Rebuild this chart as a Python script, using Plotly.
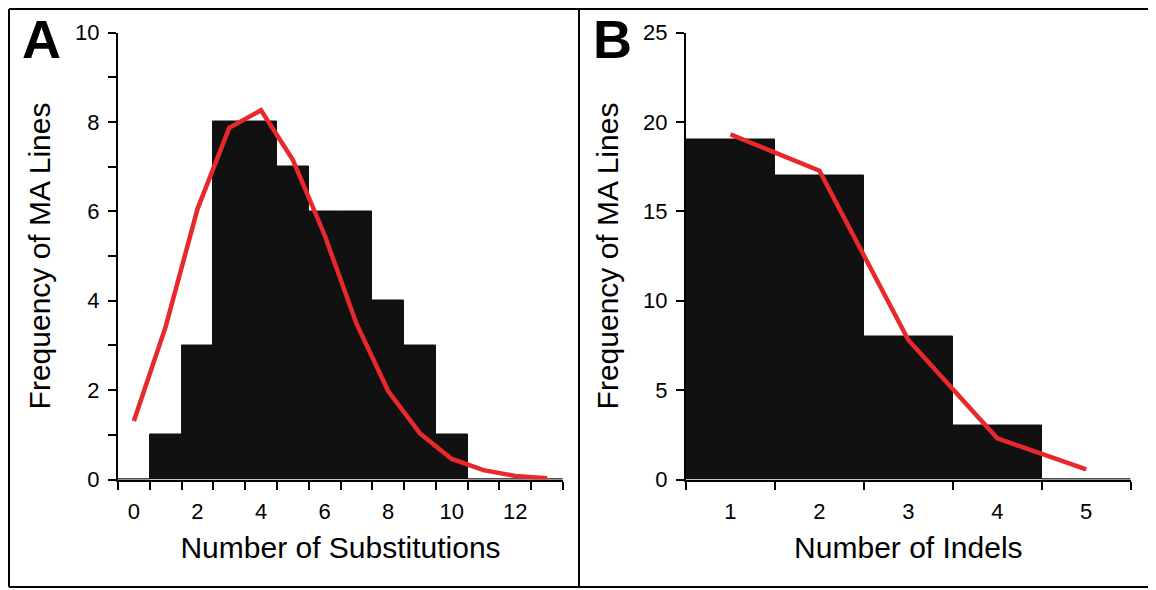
import plotly.graph_objects as go

# ---- Data ----
subs_categories = list(range(0, 14))
subs_observed = [0, 1, 3, 8, 8, 7, 6, 6, 4, 3, 1, 0, 0, 0]
subs_expected = [1.31, 3.42, 6.05, 7.87, 8.26, 7.15, 5.47, 3.49, 1.98, 1.03, 0.46, 0.21, 0.08, 0.03]

indel_categories = [1, 2, 3, 4, 5]
indel_observed = [19, 17, 8, 3, 0]
indel_expected = [19.3, 17.27, 7.8, 2.3, 0.57]

subs_tick_labels = [0, 2, 4, 6, 8, 10, 12]
subs_y_labels = [0, 2, 4, 6, 8, 10]
indel_tick_labels = [1, 2, 3, 4, 5]
indel_y_labels = [0, 5, 10, 15, 20, 25]

W, H = 1156, 590
OFF = 8  # page body margin
FONT = "Liberation Sans, Arial, sans-serif"
BAR = "#111111"
RED = "#e8282b"

fig = go.Figure()
fig.add_trace(go.Bar(x=subs_categories, y=subs_observed, width=1.0,
                     marker=dict(color=BAR, line=dict(color=BAR, width=1)),
                     xaxis="x", yaxis="y", showlegend=False))
fig.add_trace(go.Scatter(x=subs_categories, y=subs_expected, mode="lines",
                         line=dict(color=RED, width=4.5),
                         xaxis="x", yaxis="y", showlegend=False))
fig.add_trace(go.Bar(x=indel_categories, y=indel_observed, width=1.0,
                     marker=dict(color=BAR, line=dict(color=BAR, width=1)),
                     xaxis="x2", yaxis="y2", showlegend=False))
fig.add_trace(go.Scatter(x=indel_categories, y=indel_expected, mode="lines",
                         line=dict(color=RED, width=4.5),
                         xaxis="x2", yaxis="y2", showlegend=False))

def px_x(p):
    return (p - OFF) / W

def px_y(p):
    return 1 - (p - OFF) / H

ydom = [px_y(479.5), px_y(32.5)]
tickfont = dict(family=FONT, size=22, color="black")
titlefont = dict(family=FONT, size=30, color="black")

def xaxis_cfg(domain, rng, labels, minor_vals, title, anchor):
    return dict(domain=domain, range=rng, anchor=anchor, automargin=False,
                showline=True, linecolor="black", linewidth=2,
                showgrid=False, zeroline=False,
                tickmode="array", tickvals=labels, ticktext=[str(v) for v in labels],
                ticks="", tickfont=tickfont, ticklabelstandoff=11,
                minor=dict(tickmode="array", tickvals=minor_vals, ticks="outside",
                           ticklen=8, tickwidth=2, tickcolor="black", showgrid=False),
                title=dict(text=title, font=titlefont, standoff=14),
                fixedrange=True)

def yaxis_cfg(rng, labels, minor_vals, anchor):
    return dict(domain=ydom, range=rng, anchor=anchor, automargin=False,
                showline=True, linecolor="black", linewidth=2,
                showgrid=False, zeroline=False,
                tickmode="array", tickvals=labels, ticktext=[str(v) for v in labels],
                ticks="outside", ticklen=8, tickwidth=2, tickcolor="black",
                tickfont=tickfont, ticklabelstandoff=4,
                minor=dict(tickmode="array", tickvals=minor_vals, ticks="outside",
                           ticklen=8, tickwidth=2, tickcolor="black", showgrid=False),
                title=dict(text="Frequency of MA Lines", font=titlefont, standoff=16),
                fixedrange=True)

subs_minor_x = [c - 0.5 for c in subs_categories] + [subs_categories[-1] + 0.5]
indel_minor_x = [c - 0.5 for c in indel_categories] + [indel_categories[-1] + 0.5]

fig.update_layout(
    width=W, height=H,
    autosize=False,
    margin=dict(l=0, r=0, t=0, b=0, pad=0, autoexpand=False),
    paper_bgcolor="white", plot_bgcolor="white",
    bargap=0,
    xaxis=xaxis_cfg([px_x(118), px_x(563)], [-0.5, 13.5], subs_tick_labels,
                    subs_minor_x, "Number of Substitutions", "y"),
    yaxis=yaxis_cfg([0, 10], subs_y_labels, list(range(0, 11)), "x"),
    xaxis2=xaxis_cfg([px_x(686), px_x(1130.7)], [0.5, 5.5], indel_tick_labels,
                     indel_minor_x, "Number of Indels", "y2"),
    yaxis2=yaxis_cfg([0, 25], indel_y_labels, indel_y_labels, "x2"),
)

# panel letters
for letter, xp in (("A", 21), ("B", 592)):
    fig.add_annotation(text="<b>%s</b>" % letter, xref="paper", yref="paper",
                       x=px_x(xp), y=1.0, xanchor="left", yanchor="top",
                       borderpad=0, showarrow=False,
                       font=dict(family=FONT, size=54, color="black"))

# panel borders (left/top edges sit at the page edge of the figure)
line = dict(color="black", width=2)
edge_top = px_y(9)
edge_left = px_x(9)
fig.add_shape(type="line", xref="paper", yref="paper", x0=edge_left, x1=1.02, y0=edge_top, y1=edge_top, line=line)
fig.add_shape(type="line", xref="paper", yref="paper", x0=edge_left, x1=1.02, y0=px_y(587), y1=px_y(587), line=line)
fig.add_shape(type="line", xref="paper", yref="paper", x0=edge_left, x1=edge_left, y0=edge_top, y1=px_y(587), line=line)
fig.add_shape(type="line", xref="paper", yref="paper", x0=px_x(579), x1=px_x(579), y0=edge_top, y1=px_y(587), line=line)

fig.write_html("out.html")
